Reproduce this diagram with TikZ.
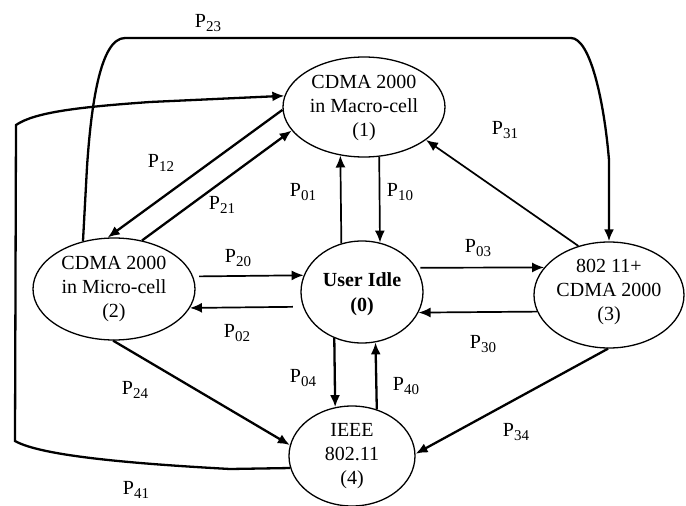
\documentclass[tikz,border=0pt]{standalone}
\usepackage{fontspec}
\setmainfont{Liberation Serif}
\usetikzlibrary{shapes.geometric,arrows.meta}
\newcommand{\Plab}[1]{P\raisebox{-0.24em}{\fontsize{15}{15}\selectfont #1}}
\begin{document}
\begin{tikzpicture}[x=1pt,y=-1pt,
  ell/.style={draw, ellipse, line width=1.3pt, inner sep=0pt},
  txt/.style={align=center, font=\fontsize{20}{24}\selectfont, inner sep=0pt},
  lab/.style={font=\fontsize{20}{22}\selectfont, inner sep=0pt},
  arr/.style={-{Latex[length=12pt,width=10pt]}, line width=1.7pt},
  thk/.style={line width=2.3pt}
]
\useasboundingbox (0,0) rectangle (686,506);

% states
\node[ell, minimum width=162pt, minimum height=100pt] (e1) at (364,107) {};
\node[ell, minimum width=122pt, minimum height=102pt] (e0) at (362,292) {};
\node[ell, minimum width=162pt, minimum height=102pt] (e2) at (114,289) {};
\node[ell, minimum width=150pt, minimum height=106pt] (e3) at (609,295) {};
\node[ell, minimum width=126pt, minimum height=100pt] (e4) at (352,456) {};

\node[txt] (t1) at (364,108) {CDMA 2000\\in Macro-cell\\(1)};
\node[txt, font=\bfseries\fontsize{20}{25}\selectfont] (t0) at (362,294) {User Idle\\(0)};
\node[txt] (t2) at (114,289) {CDMA 2000\\in Micro-cell\\(2)};
\node[txt] (t3) at (609,292) {802 11+\\CDMA 2000\\(3)};
\node[txt] (t4) at (352,456) {IEEE\\802.11\\(4)};

% transitions
\draw[arr,thk] (e1.182) -- (e2.97.4);
\draw[arr,thk] (e2.60.4) -- (e1.198);
\draw[arr] (e0.113.7) -- (e1.244.4);
\draw[arr] (e1.287) -- (e0.70.9);
\draw[arr, shorten <=6pt] (e2.9.4) -- (e0.164.6);
\draw[arr, shorten <=10pt] (e0.194.4) -- (e2.346.6);
\draw[arr, shorten <=4pt] (e0.24) -- (e3.157.3);
\draw[arr] (e3.193.5) -- (e0.340.4);
\draw[arr] (e3.122.3) -- (e1.332.1);
\draw[arr,thk] (e0.239.4) -- (e4.109.5);
\draw[arr,thk] (e4.62.5) -- (e0.285.8);
\draw[arr,thk] (e2.269) -- (e4.170.5);
\draw[arr,thk] (e3.269) -- (e4.2.6);

% P23 loop over the top
\draw[arr,thk] (e2.123.1) -- (87,167) .. controls (91,107) and (100,38) .. (125,38)
  -- (571,38) .. controls (590,38) and (604,100) .. (609,160) -- (e3.north);

% P41 loop round the left
\draw[arr,thk] (e4.191.8) -- (230,469) .. controls (120,463) and (40,455) .. (15,441)
  -- (16,125) .. controls (35,112) and (80,107) .. (150,102) -- (e1.172.5);

% labels
\node[lab] (l23) at (208,23) {\Plab{23}};
\node[lab] (l12) at (161,163) {\Plab{12}};
\node[lab] (l21) at (222,205) {\Plab{21}};
\node[lab] (l01) at (303,192) {\Plab{01}};
\node[lab] (l10) at (400,192) {\Plab{10}};
\node[lab] (l31) at (505,130) {\Plab{31}};
\node[lab] (l20) at (238,258) {\Plab{20}};
\node[lab] (l02) at (237,333) {\Plab{02}};
\node[lab] (l03) at (478,248) {\Plab{03}};
\node[lab] (l30) at (483,344) {\Plab{30}};
\node[lab] (l04) at (303,378) {\Plab{04}};
\node[lab] (l40) at (406,386) {\Plab{40}};
\node[lab] (l24) at (135,390) {\Plab{24}};
\node[lab] (l34) at (516,432) {\Plab{34}};
\node[lab] (l41) at (136,490) {\Plab{41}};
\end{tikzpicture}
\end{document}
